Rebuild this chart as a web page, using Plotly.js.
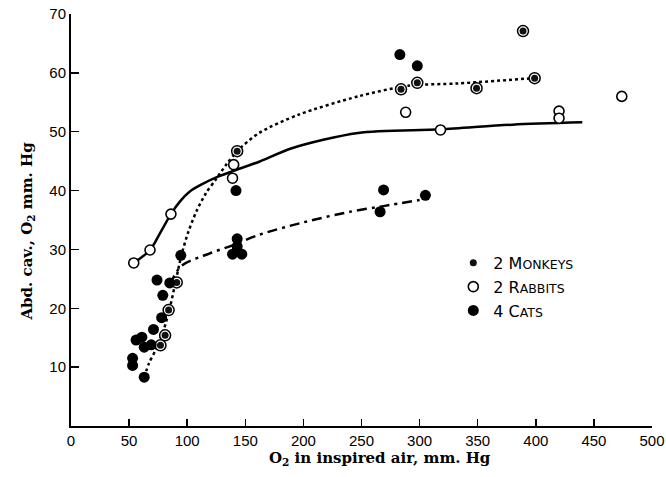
<!DOCTYPE html>
<html>
<head>
<meta charset="utf-8">
<script src="https://cdn.plot.ly/plotly-3.0.1.min.js"></script>
<style>html,body{margin:0;padding:0;background:#fff;}#chart{width:666px;height:477px;}</style>
</head>
<body>
<div id="chart"></div>
<script>
// Observed points (O2 in inspired air, Abd. cav. O2)
const monkeyX = [77, 81, 84, 91, 143, 284, 298, 349, 389, 399];
const monkeyY = [13.7, 15.4, 19.7, 24.4, 46.7, 57.2, 58.3, 57.4, 67.1, 59.1];

const rabbitX = [54, 68, 86, 139, 140, 288, 318, 420, 420, 474];
const rabbitY = [27.7, 29.9, 36.0, 42.1, 44.4, 53.3, 50.3, 53.5, 52.3, 56.0];

const catX = [53, 53, 56, 61, 63, 63, 69, 71, 74, 78, 79, 85, 94.5, 139, 143, 143, 147, 142, 266, 269, 283, 298, 305];
const catY = [10.3, 11.5, 14.6, 15.1, 13.4, 8.3, 13.8, 16.4, 24.8, 18.4, 22.2, 24.3, 29.0, 29.2, 30.5, 31.8, 29.2, 40.0, 36.4, 40.1, 63.1, 61.2, 39.2];

// Hand-drawn fitted curves
const monkeyCurveX = [63, 67, 73, 80, 85, 90, 95, 101, 108, 116, 125, 134, 143, 162, 196, 247, 290, 333, 398];
const monkeyCurveY = [8.3, 10.6, 13, 16.5, 20, 24.5, 29, 33, 36.5, 39.5, 42, 44.5, 46.7, 49.8, 52.9, 56.0, 57.8, 58.2, 59.1];

const rabbitCurveX = [54, 68, 77, 86, 94, 102, 112, 127, 142, 162, 190, 247, 318, 380, 440];
const rabbitCurveY = [27.7, 29.9, 32.9, 36.0, 38.2, 39.8, 41.0, 42.4, 43.5, 44.9, 47.2, 49.8, 50.4, 51.2, 51.6];

const catCurveX = [85, 95, 119, 139, 162, 200, 240, 270, 300];
const catCurveY = [24.0, 27.2, 29.3, 30.7, 32.5, 34.6, 36.4, 37.4, 38.4];

const xTicks = [0, 50, 100, 150, 200, 250, 300, 350, 400, 450, 500];
const yTicks = [10, 20, 30, 40, 50, 60, 70];

const xTitle = 'O<sub>2</sub> in inspired air, mm. Hg';
const yTitle = 'Abd. cav., O<sub>2</sub> mm. Hg';

const legendNames = [
  '2 M<span style="font-size:12.5px">ONKEYS</span>',
  '2 R<span style="font-size:12.5px">ABBITS</span>',
  '4 C<span style="font-size:12.5px">ATS</span>'
];

const traces = [
  {x: monkeyCurveX, y: monkeyCurveY, mode: 'lines', line: {color: '#000', width: 2.5, dash: 'dot', shape: 'spline', smoothing: 0.8}, showlegend: false, hoverinfo: 'skip'},
  {x: rabbitCurveX, y: rabbitCurveY, mode: 'lines', line: {color: '#000', width: 2.5, shape: 'spline', smoothing: 0.8}, showlegend: false, hoverinfo: 'skip'},
  {x: catCurveX, y: catCurveY, mode: 'lines', line: {color: '#000', width: 2.5, dash: '10px,5px,3px,5px', shape: 'spline', smoothing: 0.8}, showlegend: false, hoverinfo: 'skip'},
  {x: monkeyX, y: monkeyY, mode: 'markers', marker: {symbol: 'circle', size: 11, color: '#fff', line: {color: '#000', width: 1.5}}, showlegend: false, hoverinfo: 'skip'},
  {x: monkeyX, y: monkeyY, mode: 'markers', name: legendNames[0], marker: {symbol: 'circle', size: 7, color: '#111'}},
  {x: rabbitX, y: rabbitY, mode: 'markers', name: legendNames[1], marker: {symbol: 'circle', size: 10, color: '#fff', line: {color: '#000', width: 1.6}}},
  {x: catX, y: catY, mode: 'markers', name: legendNames[2], marker: {symbol: 'circle', size: 11, color: '#000'}}
];

const titleFont = {family: '"DejaVu Serif", serif', size: 15, weight: 'bold', color: '#000'};

const layout = {
  width: 666, height: 477,
  margin: {l: 71, r: 14, t: 14, b: 51},
  paper_bgcolor: '#fff', plot_bgcolor: '#fff',
  font: {family: '"Liberation Sans", Arial, sans-serif', color: '#000', size: 15},
  xaxis: {
    range: [0, 500], tickvals: xTicks, ticks: 'inside', ticklen: 7, tickwidth: 1.5, tickcolor: '#000',
    showline: true, linecolor: '#000', linewidth: 2, showgrid: false, zeroline: false,
    tickfont: {size: 15}, ticklabeloverflow: 'allow'
  },
  yaxis: {
    range: [0, 70], tickvals: yTicks, ticks: 'inside', ticklen: 8, tickwidth: 1.5, tickcolor: '#000',
    showline: true, linecolor: '#000', linewidth: 2, showgrid: false, zeroline: false,
    tickfont: {size: 15}
  },
  annotations: [
    {text: xTitle, xref: 'paper', yref: 'paper', x: 0.532, y: -0.078, xanchor: 'center', yanchor: 'middle', showarrow: false, font: titleFont},
    {text: yTitle, xref: 'paper', yref: 'paper', x: -0.075, y: 0.473, xanchor: 'center', yanchor: 'middle', showarrow: false, textangle: -90, font: titleFont}
  ],
  legend: {x: 0.658, y: 0.437, xanchor: 'left', yanchor: 'top', bgcolor: 'rgba(0,0,0,0)', font: {family: '"DejaVu Sans", sans-serif', size: 16}, tracegroupgap: 0},
  showlegend: true
};

Plotly.newPlot('chart', traces, layout, {staticPlot: true, displayModeBar: false});
</script>
</body>
</html>
